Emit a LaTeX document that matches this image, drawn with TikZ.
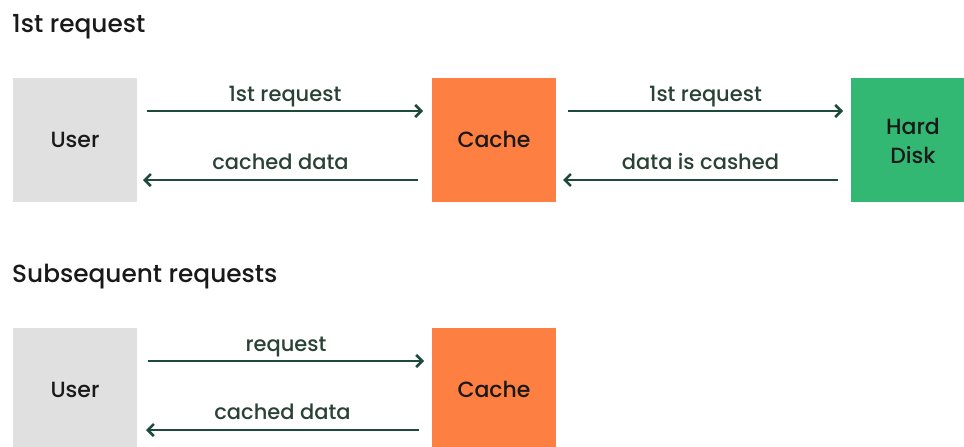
\documentclass[tikz,border=0pt]{standalone}
\usepackage{fontspec}
\setmainfont{Poppins Medium}
\usetikzlibrary{arrows.meta}
\definecolor{usergrey}{HTML}{E0E0E0}
\definecolor{cacheorange}{HTML}{FE7F42}
\definecolor{diskgreen}{HTML}{33B873}
\definecolor{flowgreen}{HTML}{1E4A3B}
\definecolor{labelgreen}{HTML}{2A4236}
\begin{document}
\begin{tikzpicture}[x=1pt,y=-1pt,
  block/.style={minimum width=124pt,minimum height=124pt,inner sep=0pt,anchor=north west},
  blocktext/.style={anchor=base,inner sep=0pt,font=\fontsize{22}{29}\selectfont,text=black!90,align=center},
  flow/.style={draw=flowgreen,line width=2.6pt,-{Straight Barb[length=6pt,width=12pt,line width=2.6pt]}},
  flowlabel/.style={midway,anchor=base,yshift=11pt,inner sep=0pt,font=\fontsize{21}{24}\selectfont,text=labelgreen},
  heading/.style={anchor=base west,inner sep=0pt,font=\fontsize{24.8}{28}\selectfont,text=black!90}]
\useasboundingbox (0,0) rectangle (964,447);
\begin{scope}
\clip (0,0) rectangle (964,447);

% headings
\node[heading] (h1) at (12,32) {1st request};
\node[heading] (h2) at (12,282) {Subsequent requests};

% first request: user -> cache -> hard disk
\node[block,fill=usergrey] (user1) at (13,78) {};
\node[block,fill=cacheorange] (cache1) at (432,78) {};
\node[block,fill=diskgreen] (disk) at (851,78) {};
\node[blocktext] (user1t) at (75,147) {User};
\node[blocktext] (cache1t) at (494,147) {Cache};
\node[blocktext] (disk1t) at (913,134) {Hard};
\node[blocktext] (disk2t) at (913,163) {Disk};

\coordinate (a1s) at (147,111); \coordinate (a1e) at (423,111);
\coordinate (b1s) at (418,180); \coordinate (b1e) at (143,180);
\coordinate (a2s) at (568,111); \coordinate (a2e) at (843,111);
\coordinate (b2s) at (838,180); \coordinate (b2e) at (563,180);

\draw[flow] (a1s) -- node[flowlabel,yshift=-1pt] (l1) {1st request} (a1e);
\draw[flow] (b1s) -- node[flowlabel] (l2) {cached data} (b1e);
\draw[flow] (a2s) -- node[flowlabel,yshift=-1pt] (l3) {1st request} (a2e);
\draw[flow] (b2s) -- node[flowlabel] (l4) {data is cashed} (b2e);

% subsequent requests: user -> cache
\node[block,fill=usergrey] (user2) at (13,328) {};
\node[block,fill=cacheorange] (cache2) at (432,328) {};
\node[blocktext] (user2t) at (75,397) {User};
\node[blocktext] (cache2t) at (494,397) {Cache};

\coordinate (c1s) at (148,361); \coordinate (c1e) at (424,361);
\coordinate (d1s) at (419,430); \coordinate (d1e) at (146,430);

\draw[flow] (c1s) -- node[flowlabel,yshift=-1pt] (l5) {request} (c1e);
\draw[flow] (d1s) -- node[flowlabel] (l6) {cached data} (d1e);
\end{scope}
\end{tikzpicture}
\end{document}
